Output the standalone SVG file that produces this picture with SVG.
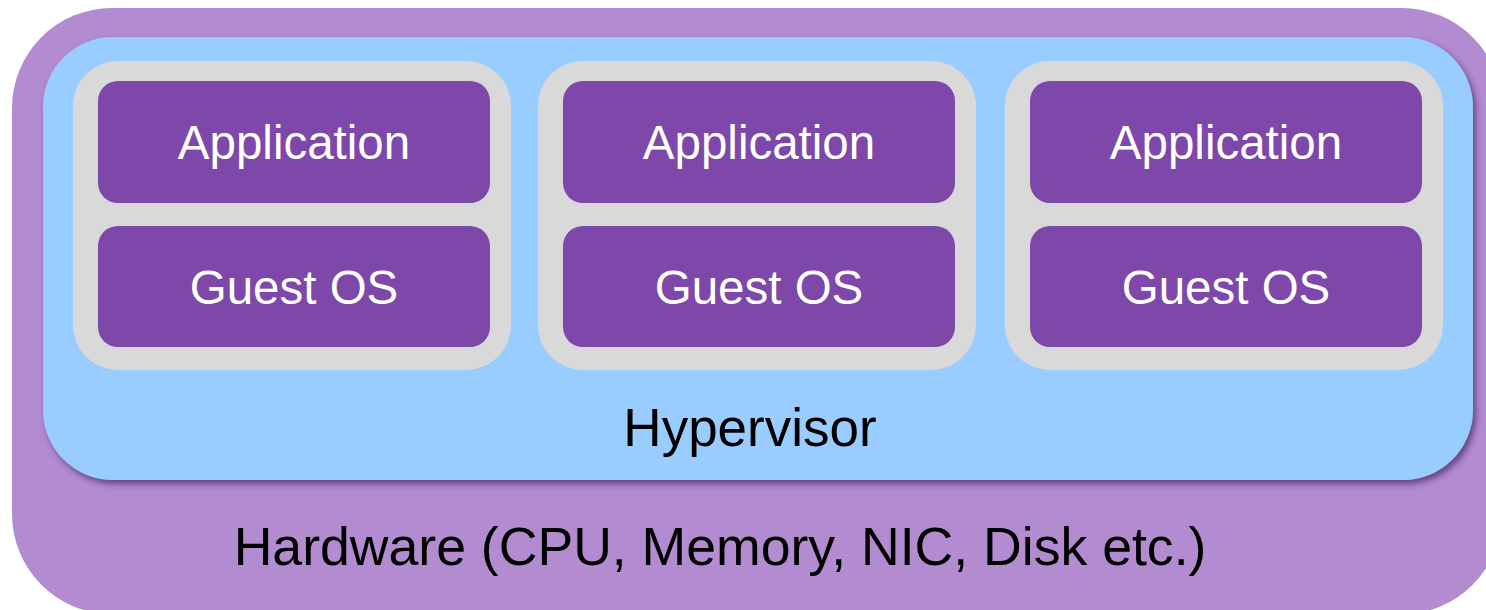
<svg xmlns="http://www.w3.org/2000/svg" width="1486" height="610" viewBox="0 0 1486 610">
<style>
.vm{fill:#D9D9D9}
.box{fill:#7E47AA}
.lt{font-family:"Liberation Sans",Arial,sans-serif;font-size:47.5px;fill:#FFFFFF;text-anchor:middle}
.dk{font-family:"Liberation Sans",Arial,sans-serif;font-size:53px;fill:#000000;text-anchor:middle}
</style>
<defs>
<filter id="sh" x="-5%" y="-10%" width="112%" height="125%">
<feDropShadow dx="3" dy="4" stdDeviation="3" flood-color="#4B2F66" flood-opacity="0.75"/>
</filter>
</defs>
<g id="hardware">
<rect x="12" y="8" width="1490" height="606" rx="100" ry="100" fill="#B28BD0"/>
<text class="dk" x="720" y="565" style="font-size:53.6px">Hardware (CPU, Memory, NIC, Disk etc.)</text>
</g>
<g id="hypervisor">
<rect x="43" y="37" width="1430" height="443" rx="70" ry="70" fill="#99CCFF" filter="url(#sh)"/>
<text class="dk" x="750" y="446">Hypervisor</text>
</g>
<g id="vm1">
<rect class="vm" x="73" y="61" width="438" height="309" rx="45" ry="45"/>
<g id="app1"><rect class="box" x="98" y="81" width="392" height="122" rx="20" ry="20"/><text class="lt" x="294" y="159">Application</text></g>
<g id="os1"><rect class="box" x="98" y="226" width="392" height="121" rx="20" ry="20"/><text class="lt" x="294" y="304">Guest OS</text></g>
</g>
<g id="vm2">
<rect class="vm" x="538" y="61" width="438" height="309" rx="45" ry="45"/>
<g id="app2"><rect class="box" x="563" y="81" width="392" height="122" rx="20" ry="20"/><text class="lt" x="759" y="159">Application</text></g>
<g id="os2"><rect class="box" x="563" y="226" width="392" height="121" rx="20" ry="20"/><text class="lt" x="759" y="304">Guest OS</text></g>
</g>
<g id="vm3">
<rect class="vm" x="1005" y="61" width="438" height="309" rx="45" ry="45"/>
<g id="app3"><rect class="box" x="1030" y="81" width="392" height="122" rx="20" ry="20"/><text class="lt" x="1226" y="159">Application</text></g>
<g id="os3"><rect class="box" x="1030" y="226" width="392" height="121" rx="20" ry="20"/><text class="lt" x="1226" y="304">Guest OS</text></g>
</g>
<g id="connectors"></g>
</svg>
